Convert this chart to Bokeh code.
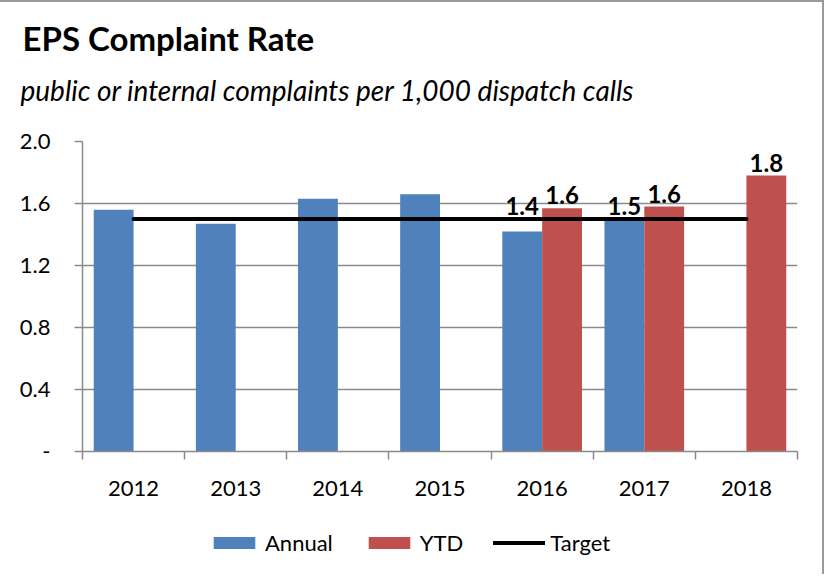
from bokeh.plotting import figure
from bokeh.models import (ColumnDataSource, FixedTicker, Title, LabelSet, Legend, LegendItem)
from bokeh.layouts import column
from bokeh.core.properties import value
from bokeh.embed import file_html
from bokeh.resources import INLINE

years = ["2012", "2013", "2014", "2015", "2016", "2017", "2018"]
annual = [1.56, 1.47, 1.63, 1.66, 1.42, 1.50, None]
ytd = [None, None, None, None, 1.57, 1.58, 1.78]
target = [1.5, 1.5, 1.5, 1.5, 1.5, 1.5, 1.5]
y_ticks = [0.0, 0.4, 0.8, 1.2, 1.6, 2.0]
y_tick_labels = ["-", "0.4", "0.8", "1.2", "1.6", "2.0"]
label_years = ["2016", "2017", "2018"]
title_text = "EPS Complaint Rate"
subtitle_text = "public or internal complaints per 1,000 dispatch calls"
legend_labels = ["Annual", "YTD", "Target"]

BLUE = "#4F81BD"
RED = "#C0504D"
GRID = "#8a8a8a"
BORDER = "#9a9a9a"
FONT = "Lato"
OFF = 0.195
BAR_W = 0.39
W = 824

xc = [i + 0.5 for i in range(len(years))]

def series(vals, shift):
    d = dict(x=[], top=[], yl=[], t=[], yr=[])
    for i, v in enumerate(vals):
        if v is None:
            continue
        d["x"].append(xc[i] + shift)
        d["top"].append(v)
        d["yl"].append(max(v, target[i]))
        d["t"].append(f"{v:.1f}")
        d["yr"].append(years[i])
    return d

ann = series(annual, -OFF)
yt = series(ytd, OFF)
src_a = ColumnDataSource(dict(x=ann["x"], top=ann["top"]))
src_y = ColumnDataSource(dict(x=yt["x"], top=yt["top"]))

def bare(height, styles, xr=None, yr=None):
    kw = {}
    if xr is not None:
        kw["x_range"] = xr
        kw["y_range"] = yr
    f = figure(width=W, height=height, output_backend="svg", toolbar_location=None,
               x_axis_location=None, y_axis_location=None,
               min_border_left=0, min_border_right=0, min_border_top=0, min_border_bottom=0,
               background_fill_color="white", border_fill_color="white", **kw)
    f.xgrid.grid_line_color = None
    f.ygrid.grid_line_color = None
    f.outline_line_color = None
    f.styles = styles
    return f

# ---- title block ----
pt = bare(115, {"border-top": f"2px solid {BORDER}", "border-right": f"2px solid {BORDER}"})
pt.add_layout(Title(text=subtitle_text, text_font=FONT, text_font_size="28px",
                    text_font_style="italic", align="left", offset=-62, standoff=0,
                    text_color="black"), "above")
pt.add_layout(Title(text=title_text, text_font=FONT, text_font_size="33px",
                    text_font_style="bold", align="left", offset=-60, standoff=26,
                    text_color="black"), "above")

# ---- main chart ----
p = figure(width=W, height=391, x_range=(0, 7), y_range=(0, 2.0),
           output_backend="svg", toolbar_location=None,
           min_border_left=82, min_border_right=27, min_border_top=26,
           min_border_bottom=55, background_fill_color="white",
           border_fill_color="white")
p.styles = {"border-right": f"2px solid {BORDER}"}
p.outline_line_color = None

p.vbar(x="x", top="top", width=BAR_W, source=src_a, fill_color=BLUE, line_color=None)
p.vbar(x="x", top="top", width=BAR_W, source=src_y, fill_color=RED, line_color=None)
p.line(x=xc, y=target, line_color="black", line_width=4, line_cap="round")

for d in (ann, yt):
    keep = [k for k, yr in enumerate(d["yr"]) if yr in label_years]
    lsrc = ColumnDataSource(dict(x=[d["x"][k] for k in keep],
                                 y=[d["yl"][k] for k in keep],
                                 t=[d["t"][k] for k in keep]))
    p.add_layout(LabelSet(x="x", y="y", text="t", source=lsrc,
                          text_font=value(FONT), text_font_size="24px",
                          text_font_style="bold", text_align="center",
                          text_baseline="bottom", y_offset=4, text_color="black"))

xa = p.xaxis[0]
xa.ticker = FixedTicker(ticks=xc, minor_ticks=list(range(len(years) + 1)))
xa.major_label_overrides = {float(x): y for x, y in zip(xc, years)}
xa.major_tick_out = 0
xa.major_tick_in = 0
xa.minor_tick_out = 8
xa.minor_tick_in = 0
xa.minor_tick_line_color = GRID
xa.minor_tick_line_width = 1.5
xa.axis_line_color = GRID
xa.axis_line_width = 1.5
xa.major_label_text_font = FONT
xa.major_label_text_font_size = "22px"
xa.major_label_text_color = "black"
xa.major_label_standoff = 21

ya = p.yaxis[0]
ya.ticker = FixedTicker(ticks=y_ticks, minor_ticks=[])
ya.major_label_overrides = {float(v): s for v, s in zip(y_ticks, y_tick_labels)}
ya.major_tick_out = 8
ya.major_tick_in = 0
ya.major_tick_line_color = GRID
ya.major_tick_line_width = 1.5
ya.axis_line_color = GRID
ya.axis_line_width = 1.5
ya.major_label_text_font = FONT
ya.major_label_text_font_size = "22px"
ya.major_label_text_color = "black"
ya.major_label_standoff = 24

p.xgrid.grid_line_color = None
p.ygrid.grid_line_color = GRID
p.ygrid.grid_line_width = 1.5
p.ygrid.ticker = ya.ticker

# ---- legend block (same series, drawn outside this block's visible range) ----
pl = bare(68, {"border-right": f"2px solid {BORDER}"}, xr=(100, 101), yr=(100, 101))
g_a = pl.vbar(x="x", top="top", width=BAR_W, source=src_a, fill_color=BLUE, line_color=None)
g_y = pl.vbar(x="x", top="top", width=BAR_W, source=src_y, fill_color=RED, line_color=None)
g_t = pl.line(x=xc, y=target, line_color="black", line_width=4, line_cap="round")
legend = Legend(items=[LegendItem(label=legend_labels[0], renderers=[g_a]),
                       LegendItem(label=legend_labels[1], renderers=[g_y]),
                       LegendItem(label=legend_labels[2], renderers=[g_t])],
                orientation="horizontal", location=(126, 18),
                glyph_width=52, glyph_height=15, label_standoff=5, spacing=30,
                label_text_font=FONT, label_text_font_size="22px",
                label_text_color="black", border_line_color=None,
                background_fill_alpha=0, padding=0, margin=0)
pl.add_layout(legend)

layout = column(pt, p, pl, spacing=0)
open("out.html", "w").write(file_html(layout, INLINE))
